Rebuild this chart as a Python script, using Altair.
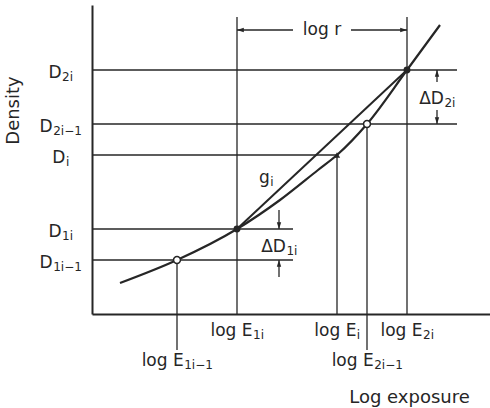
import altair as alt
import pandas as pd

# ---------------------------------------------------------------------------
# Values of the diagram (abstract units, one unit = 50 px on both axes)
# ---------------------------------------------------------------------------
step_sub = ["1i−1", "1i", "i", "2i−1", "2i"]     # subscripts of E and D
log_e = [1.7, 2.9, 4.9, 5.5, 6.3]                # log exposure of each step
density = [1.08, 1.7, 3.18, 3.8, 4.88]           # density read at each step
marker = ["open", "filled", "mid", "open", "filled"]

# characteristic curve (lower branch) through the measured steps
curve_x = [0.56, 1.7, 2.9, 3.76, 4.52, 4.9, 5.5, 6.3, 6.96]
curve_y = [0.62, 1.08, 1.7, 2.28, 2.88, 3.18, 3.8, 4.88, 5.78]

# ---------------------------------------------------------------------------
# Layout
# ---------------------------------------------------------------------------
PX = 50.0
W, H = 398, 309
FONT = "DejaVu Sans"
INK = "#262626"
MAIN_SIZE, SUB_SIZE = 17, 12


def px(n):
    """pixel distance -> data units"""
    return n / PX


TOP = H / PX - px(12)          # upper end of the long E lines
DD1_X = 3.74                   # x of the ΔD1i arrows
DD2_X = 6.9                    # x of the ΔD2i arrows
LOGR_Y = TOP - px(13)          # height of the log r dimension line
G_POS = (3.48, 2.62)           # position of the g_i label

# DejaVu Sans advance widths (em) for the glyphs used in labels
ADV = {"l": .278, "o": .612, "g": .635, " ": .318, "E": .632, "D": .770,
       "Δ": .684, "1": .636, "2": .636, "i": .278, "−": .838, "r": .411}


def text_w(s, size):
    return sum(ADV.get(c, .6) for c in s) * size


# ---------------------------------------------------------------------------
# Tables
# ---------------------------------------------------------------------------
curve = pd.DataFrame({"x": curve_x, "y": curve_y})
chord = pd.DataFrame({"x": [log_e[1], log_e[4]], "y": [density[1], density[4]]})

segs = []
for sub, e, d in zip(step_sub, log_e, density):
    # horizontal density line
    if sub.startswith("1"):
        xe = DD1_X + px(14)
    elif sub.startswith("2"):
        xe = DD2_X + px(20)
    else:
        xe = e
    segs.append((0, d, xe, d))
    # vertical exposure line
    lo = -px(36) if sub.endswith("−1") else 0
    hi = TOP if sub in ("1i", "2i") else d
    segs.append((e, lo, e, hi))

# ΔD2i arrows (pointing outwards to the two lines)
segs.append((DD2_X, density[4] - px(12), DD2_X, density[4]))
segs.append((DD2_X, density[3] + px(14), DD2_X, density[3]))
# ΔD1i arrows (pointing inwards from outside)
segs.append((DD1_X, density[1] + px(19), DD1_X, density[1]))
segs.append((DD1_X, density[0] - px(17), DD1_X, density[0]))
# log r dimension line
mid_r = (log_e[1] + log_e[4]) / 2
segs.append((log_e[1], LOGR_Y, mid_r - px(29), LOGR_Y))
segs.append((mid_r + px(29), LOGR_Y, log_e[4], LOGR_Y))
rules = pd.DataFrame(segs, columns=["x", "y", "x2", "y2"])

heads = pd.DataFrame({
    "x": [DD2_X, DD2_X, DD1_X, DD1_X, log_e[1], log_e[4]],
    "y": [density[4], density[3], density[1], density[0], LOGR_Y, LOGR_Y],
    "a": [0, 180, 180, 0, 270, 90],
})

pts = pd.DataFrame({"x": log_e, "y": density, "m": marker})

labels = []
for sub, e, d in zip(step_sub, log_e, density):
    row = -px(52) if sub.endswith("−1") else -px(22)
    labels.append(("log E", sub, e, row))
    labels.append(("D", sub, -px(31.5), d - px(8)))
labels.append(("ΔD", "2i", DD2_X, (density[4] + density[3]) / 2 - px(7)))
labels.append(("ΔD", "1i", DD1_X, (density[1] + density[0]) / 2 - px(7)))
labels.append(("g", "i", G_POS[0], G_POS[1]))
lab = pd.DataFrame(labels, columns=["main", "sub", "cx", "y"])
lab["anchor"] = [
    cx + px((text_w(m, MAIN_SIZE) - text_w(s, SUB_SIZE)) / 2)
    for m, s, cx in zip(lab["main"], lab["sub"], lab["cx"])
]

logr = pd.DataFrame({"x": [mid_r], "y": [LOGR_Y], "t": ["log r"]})

# ---------------------------------------------------------------------------
# Encodings
# ---------------------------------------------------------------------------
xs = alt.Scale(domain=[0, W / PX], nice=False, zero=False)
ys = alt.Scale(domain=[0, H / PX], nice=False, zero=False)
x_axis = alt.Axis(domain=True, ticks=False, labels=False, grid=False,
                  domainColor=INK, domainWidth=2,
                  title="Log exposure", titleFont=FONT, titleFontSize=18,
                  titleFontWeight="normal", titleColor=INK,
                  titleX=317, titleY=83, titleAlign="center",
                  titleBaseline="middle", titleAnchor="start")
y_axis = alt.Axis(domain=True, ticks=False, labels=False, grid=False,
                  domainColor=INK, domainWidth=2,
                  title="Density", titleFont=FONT, titleFontSize=18,
                  titleFontWeight="normal", titleColor=INK,
                  titleX=-79, titleY=105, titleAngle=270, titleAlign="center",
                  titleBaseline="middle", titleAnchor="start")


def X(f):
    return alt.X(f, type="quantitative", scale=xs, axis=x_axis)


def Y(f):
    return alt.Y(f, type="quantitative", scale=ys, axis=y_axis)


guide = alt.Chart(rules).mark_rule(color=INK, strokeWidth=1.3).encode(
    x=X("x"), y=Y("y"), x2="x2", y2="y2")

curve_line = alt.Chart(curve).mark_line(
    color=INK, strokeWidth=2.2, interpolate="monotone").encode(
    x=X("x"), y=Y("y"), order="x:Q")

chord_line = alt.Chart(chord).mark_line(color=INK, strokeWidth=2.0).encode(
    x=X("x"), y=Y("y"))

arrow_heads = alt.Chart(heads).mark_point(
    shape="M0,0L-0.55,1.7L0.55,1.7Z", size=64, filled=True,
    color=INK, opacity=1).encode(
    x=X("x"), y=Y("y"), angle=alt.Angle("a:Q", scale=None))

open_pts = alt.Chart(pts).transform_filter(alt.datum.m == "open").mark_point(
    shape="circle", size=48, filled=True, fill="white", stroke=INK,
    strokeWidth=1.5, opacity=1).encode(x=X("x"), y=Y("y"))

full_pts = alt.Chart(pts).transform_filter(alt.datum.m == "filled").mark_point(
    shape="circle", size=48, filled=True, color=INK, opacity=1).encode(
    x=X("x"), y=Y("y"))

mid_pts = alt.Chart(pts).transform_filter(alt.datum.m == "mid").mark_point(
    shape="triangle-up", size=40, filled=True, color=INK, opacity=1).encode(
    x=X("x"), y=Y("y"))

main_txt = alt.Chart(lab).mark_text(
    font=FONT, fontSize=MAIN_SIZE, color=INK, align="right",
    baseline="alphabetic").encode(x=X("anchor"), y=Y("y"), text="main")

sub_txt = alt.Chart(lab).mark_text(
    font=FONT, fontSize=SUB_SIZE, color=INK, align="left",
    baseline="alphabetic", dy=3, dx=0.5).encode(
    x=X("anchor"), y=Y("y"), text="sub")

logr_txt = alt.Chart(logr).mark_text(
    font=FONT, fontSize=MAIN_SIZE, color=INK, align="center",
    baseline="middle").encode(x=X("x"), y=Y("y"), text="t")

chart = alt.layer(
    guide, curve_line, chord_line, arrow_heads,
    open_pts, full_pts, mid_pts, main_txt, sub_txt, logr_txt,
).properties(
    width=W, height=H,
    padding={"left": 92, "top": 5, "right": 0, "bottom": 94},
    autosize=alt.AutoSizeParams(type="none"),
    background="white",
).configure_view(stroke=None)

chart.save("out.html", embed_options={"renderer": "svg", "actions": False})
